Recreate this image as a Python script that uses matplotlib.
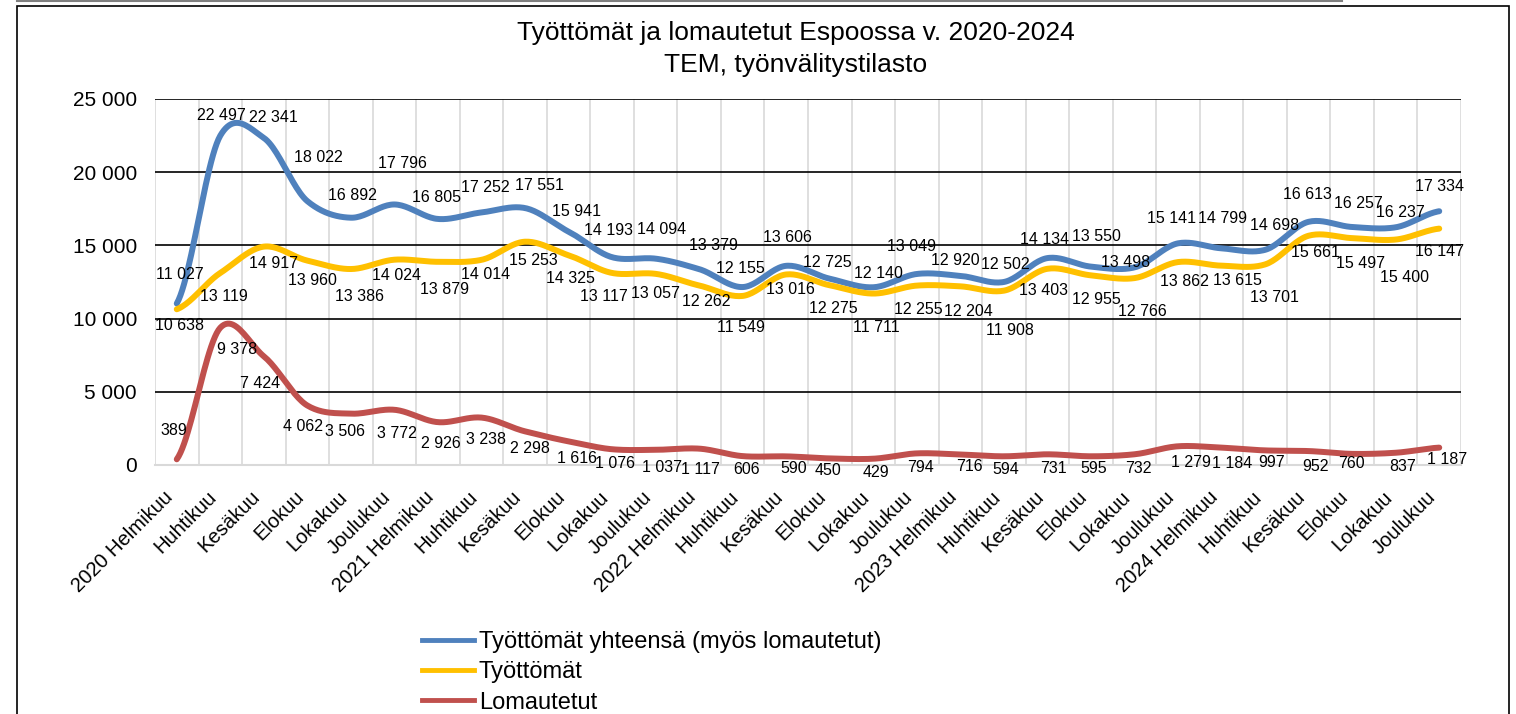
import numpy as np
import matplotlib
matplotlib.use("Agg")
import matplotlib.pyplot as plt
from matplotlib.patches import Rectangle
from matplotlib.lines import Line2D

plt.rcParams['font.family'] = ['Liberation Sans', 'DejaVu Sans']

categories = [
    "2020 Helmikuu", "Huhtikuu", "Kesäkuu", "Elokuu", "Lokakuu", "Joulukuu",
    "2021 Helmikuu", "Huhtikuu", "Kesäkuu", "Elokuu", "Lokakuu", "Joulukuu",
    "2022 Helmikuu", "Huhtikuu", "Kesäkuu", "Elokuu", "Lokakuu", "Joulukuu",
    "2023 Helmikuu", "Huhtikuu", "Kesäkuu", "Elokuu", "Lokakuu", "Joulukuu",
    "2024 Helmikuu", "Huhtikuu", "Kesäkuu", "Elokuu", "Lokakuu", "Joulukuu",
]
total = [11027, 22497, 22341, 18022, 16892, 17796, 16805, 17252, 17551, 15941,
         14193, 14094, 13379, 12155, 13606, 12725, 12140, 13049, 12920, 12502,
         14134, 13550, 13498, 15141, 14799, 14698, 16613, 16257, 16237, 17334]
unemployed = [10638, 13119, 14917, 13960, 13386, 14024, 13879, 14014, 15253, 14325,
              13117, 13057, 12262, 11549, 13016, 12275, 11711, 12255, 12204, 11908,
              13403, 12955, 12766, 13862, 13615, 13701, 15661, 15497, 15400, 16147]
laid_off = [389, 9378, 7424, 4062, 3506, 3772, 2926, 3238, 2298, 1616,
            1076, 1037, 1117, 606, 590, 450, 429, 794, 716, 594,
            731, 595, 732, 1279, 1184, 997, 952, 760, 837, 1187]
series_names = ["Työttömät yhteensä (myös lomautetut)", "Työttömät", "Lomautetut"]
yticks = [0, 5000, 10000, 15000, 20000, 25000]

# label nudges in pixels (dx right, dy = distance from the point; + above for
# the total series, + below for the other two), as Excel placed them
total_dx = [3, 1, 10, 11, 2, 8, -1, 4, 14, 8, -4, 6, 14, -2, 1, -2, 5, -5, -5, 1,
            -3, 5, -9, -7, 1, 9, -1, 6, 5, 0]
total_dy = [29, 20, 20, 44, 22, 41, 21, 25, 23, 20, 27, 29, 24, 19, 28, 16, 14, 27, 15, 17,
            19, 30, 5, 25, 30, 24, 27, 23, 15, 25]
unemp_dx = [3, 4, 10, 5, 9, 2, 7, 4, 8, 2, -8, 0, 7, -2, 4, 4, 3, 1, 8, 6,
            -4, 5, 8, 6, 16, 9, 7, 8, 9, 0]
unemp_dy = [16, 24, 17, 20, 27, 16, 28, 15, 19, 23, 24, 20, 16, 32, 15, 23, 34, 24, 25, 40,
            22, 24, 33, 19, 15, 33, 17, 25, 38, 23]
laid_dx = [-3, 17, -4, -4, -6, 3, 3, 4, 5, 8, 3, 6, 1, 4, 7, -2, 3, 4, 9, 2,
           6, 3, 4, 13, 11, 6, 7, -1, 7, 8]
laid_dy = [-29, 22, 27, 21, 18, 24, 21, 22, 17, 17, 14, 18, 21, 13, 12, 12, 14, 14, 12, 13,
           14, 12, 14, 16, 16, 12, 15, 10, 14, 12]


def fmt(v):
    return f"{v:,}".replace(",", " ")


def smooth(y, n=24, tension=0.9):
    # Catmull-Rom curve through the points, like Excel's smoothed line
    y = np.asarray(y, dtype=float)
    p = np.r_[y[0], y, y[-1]]
    t = np.linspace(0, 1, n, endpoint=False)
    xs, ys = [], []
    for i in range(len(y) - 1):
        p0, p1, p2, p3 = p[i:i + 4]
        m1 = tension * (p2 - p0) / 2
        m2 = tension * (p3 - p1) / 2
        h00 = 2 * t**3 - 3 * t**2 + 1
        h10 = t**3 - 2 * t**2 + t
        h01 = -2 * t**3 + 3 * t**2
        h11 = t**3 - t**2
        ys.append(h00 * p1 + h10 * m1 + h01 * p2 + h11 * m2)
        xs.append(i + t)
    xs.append([len(y) - 1])
    ys.append([y[-1]])
    return np.concatenate(xs), np.concatenate(ys)


fig = plt.figure(figsize=(15.16, 7.14), dpi=100)
ax = fig.add_axes([155 / 1516, 1 - 465 / 714, (1461 - 155) / 1516, (465 - 99) / 714])

x = np.arange(len(categories))
colors = ['#4F81BD', '#FFC000', '#C0504D']
for vals, name, c in zip([total, unemployed, laid_off], series_names, colors):
    sx, sy = smooth(vals)
    ax.plot(sx, sy, color=c, lw=4.3, solid_capstyle='round', zorder=3, label=name)

px = 72 / 100  # pixels -> points
for vals, dxs, dys, sign in [(total, total_dx, total_dy, 1),
                             (unemployed, unemp_dx, unemp_dy, -1),
                             (laid_off, laid_dx, laid_dy, -1)]:
    for i, v in enumerate(vals):
        ax.annotate(fmt(v), (i, v), xytext=(dxs[i] * px, sign * dys[i] * px),
                    textcoords='offset points', ha='center', va='center',
                    fontsize=11.5, zorder=5)

ax.set_xlim(-0.5, len(categories) - 0.5)
ax.set_ylim(0, 25000)
ax.set_yticks(yticks)
ax.set_yticklabels([fmt(v) for v in yticks], fontsize=15)
ax.set_xticks(x)
ax.set_xticklabels(categories, rotation=45, ha='right', fontsize=14.5)
ax.set_xticks(np.arange(-0.5, len(categories)), minor=True)
ax.tick_params(axis='both', which='both', length=0)
ax.tick_params(axis='y', pad=13)
ax.tick_params(axis='x', pad=16)
ax.grid(which='minor', axis='x', color='#d9d9d9', lw=1.2, zorder=0)
ax.grid(which='major', axis='y', color='black', lw=1.2, zorder=1)
ax.grid(which='major', axis='x', visible=False)
for s in ['top', 'right', 'left']:
    ax.spines[s].set_visible(False)
ax.spines['bottom'].set_color('#d9d9d9')
ax.spines['bottom'].set_linewidth(1.5)
ax.spines['bottom'].set_zorder(2)
ax.set_axisbelow(True)

fig.text(796 / 1516, 1 - 33 / 714, "Työttömät ja lomautetut Espoossa v. 2020-2024",
         ha='center', va='center', fontsize=19)
fig.text(796 / 1516, 1 - 65 / 714, "TEM, työnvälitystilasto",
         ha='center', va='center', fontsize=19)

leg_handles = [Line2D([], [], color=c, lw=3.5) for c in colors]
fig.legend(leg_handles, series_names, loc='upper left',
           bbox_to_anchor=(422 / 1516, 1 - 631 / 714), frameon=False,
           fontsize=17, handlelength=2.2, handletextpad=0.2,
           labelspacing=0.35, borderpad=0, borderaxespad=0)

# chart area border
fig.add_artist(Rectangle((17 / 1516, -0.01), (1509 - 17) / 1516, 1 - 6 / 714 + 0.01,
                         transform=fig.transFigure, fill=False, ec='black', lw=1.2))
fig.add_artist(Line2D([17 / 1516, 1342 / 1516], [1 - 1 / 714, 1 - 1 / 714],
                      transform=fig.transFigure, color='#808080', lw=1.5))

fig.savefig("out.png", dpi=100, facecolor='white')
